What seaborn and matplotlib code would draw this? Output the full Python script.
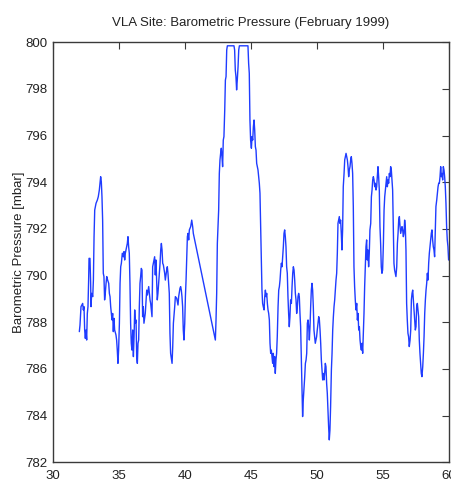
import matplotlib
matplotlib.use("Agg")
import matplotlib.pyplot as plt
import seaborn as sns
import numpy as np
import pandas as pd

# ---- data (day index, pressure in mbar) ----
day_a = [31.995, 32.045, 32.121, 32.248, 32.298, 32.349, 32.399, 32.45, 32.50, 32.55,
         32.60, 32.65, 32.70, 32.73, 32.80, 32.85, 32.88, 32.93, 33.01, 33.06,
         33.11, 33.16, 33.21, 33.26, 33.36, 33.43, 33.51, 33.56, 33.61, 33.66,
         33.71, 33.76, 33.81, 33.86, 33.91, 33.96, 34.02, 34.07, 34.14, 34.22,
         34.27, 34.32, 34.37, 34.47, 34.52, 34.57, 34.62, 34.67, 34.77, 34.82,
         34.87, 34.92, 34.97, 35.03, 35.08, 35.13, 35.18, 35.25, 35.33, 35.38,
         35.43, 35.48, 35.58, 35.63, 35.68, 35.73, 35.78, 35.83, 35.88, 35.93,
         35.98, 36.04, 36.09, 36.14, 36.19, 36.24, 36.29, 36.34, 36.39, 36.44,
         36.49, 36.54, 36.59, 36.64, 36.69, 36.74, 36.79, 36.84, 36.89, 36.99,
         37.10, 37.15, 37.25, 37.35, 37.40, 37.45, 37.50, 37.55, 37.60, 37.70,
         37.75, 37.80, 37.85, 37.90, 37.95, 38.06, 38.11, 38.16, 38.21, 38.26,
         38.31, 38.36, 38.46, 38.51, 38.56, 38.61, 38.66, 38.71, 38.76, 38.81,
         38.86, 38.91, 39.02, 39.07, 39.12, 39.22, 39.27, 39.37, 39.47, 39.52,
         39.62]
pres_a = [787.60, 787.88, 788.67, 788.81, 788.53, 788.67, 787.67, 787.31, 787.67, 787.24,
          788.38, 788.67, 789.81, 790.74, 790.74, 789.74, 788.67, 789.24, 789.10, 789.81,
          791.67, 792.81, 792.96, 793.10, 793.24, 793.38, 793.67, 793.96, 794.24, 794.03,
          793.38, 792.38, 790.10, 789.96, 788.96, 789.24, 789.67, 789.96, 789.81, 789.67,
          789.24, 789.10, 788.67, 788.10, 788.38, 787.60, 788.17, 787.67, 787.46, 787.24,
          786.81, 786.24, 786.81, 787.96, 789.67, 790.38, 790.53, 790.96, 790.81, 791.03,
          790.67, 790.96, 791.24, 791.38, 791.67, 791.24, 790.96, 789.67, 787.96, 787.10,
          786.81, 787.67, 786.53, 787.38, 788.53, 787.96, 788.10, 786.53, 786.24, 787.10,
          787.24, 788.67, 789.67, 789.96, 790.31, 790.24, 788.24, 788.67, 787.96, 788.38,
          789.38, 789.17, 789.53, 788.96, 788.81, 788.53, 788.24, 790.38, 790.53, 790.81,
          790.03, 790.67, 789.74, 788.96, 789.24, 790.10, 790.53, 791.10, 791.38, 791.10,
          790.53, 790.46, 790.10, 789.81, 790.03, 790.24, 790.38, 790.10, 789.67, 789.24,
          787.53, 786.67, 786.24, 786.96, 787.96, 788.67, 789.10, 789.03, 788.74, 789.10,
          789.46]

day_b = [39.67, 39.72, 39.77, 39.82, 39.87, 39.92, 39.98, 40.03, 40.08, 40.13,
         40.18, 40.23, 40.28, 40.33, 40.43, 40.51, 40.58, 40.63, 42.30, 42.35,
         42.40, 42.45, 42.55, 42.60, 42.65, 42.70, 42.75, 42.80, 42.85, 42.90,
         42.95, 43.01, 43.06, 43.11, 43.16, 43.21, 43.71, 43.76, 43.81, 43.86,
         43.91, 43.96, 44.02, 44.07, 44.12, 44.77, 44.82, 44.87, 44.92, 44.97,
         45.03, 45.08, 45.13, 45.18, 45.23, 45.28, 45.33, 45.38, 45.43, 45.53,
         45.58, 45.63, 45.68, 45.73, 45.78, 45.83, 45.88, 45.93, 45.99, 46.04,
         46.09, 46.14, 46.19, 46.24, 46.29, 46.34, 46.39, 46.44]
pres_b = [789.53, 789.38, 789.10, 788.67, 787.67, 787.24, 787.96, 789.10, 789.81, 790.81,
          791.67, 791.81, 791.53, 791.96, 792.10, 792.38, 792.10, 791.81, 787.24, 788.10,
          789.24, 791.38, 792.81, 794.38, 794.96, 795.24, 795.46, 795.10, 794.67, 795.81,
          795.96, 797.10, 798.38, 798.53, 799.67, 799.85, 799.85, 799.67, 798.81, 798.53,
          797.96, 798.38, 798.96, 799.67, 799.85, 799.85, 799.10, 798.67, 796.67, 795.81,
          795.46, 795.96, 795.81, 796.38, 796.67, 796.24, 795.53, 795.38, 794.81, 794.53,
          794.24, 793.96, 793.53, 792.10, 790.53, 789.38, 788.81, 788.67, 788.53, 789.10,
          789.38, 789.10, 789.24, 788.81, 788.53, 788.38, 788.10, 787.10]

day_c = [46.49, 46.54, 46.59, 46.64, 46.69, 46.74, 46.79, 46.84, 46.89, 46.94,
         46.99, 47.05, 47.10, 47.15, 47.20, 47.25, 47.30, 47.35, 47.40, 47.45,
         47.50, 47.55, 47.60, 47.65, 47.70, 47.75, 47.80, 47.85, 47.90, 47.95,
         48.00, 48.06, 48.11, 48.16, 48.21, 48.26, 48.31, 48.36, 48.41, 48.46,
         48.51, 48.56, 48.61, 48.66, 48.71, 48.76, 48.81, 48.86, 48.91, 48.96,
         49.01, 49.07, 49.12, 49.17, 49.22, 49.27, 49.32, 49.37, 49.42, 49.47,
         49.52, 49.57, 49.62, 49.67, 49.72, 49.77, 49.82, 49.87, 49.92, 49.97,
         50.02, 50.08, 50.13, 50.18, 50.23, 50.28, 50.33, 50.38, 50.43, 50.48,
         50.53, 50.58, 50.63, 50.68, 50.73, 50.78, 50.83, 50.88, 50.93, 50.98,
         51.03, 51.09, 51.14, 51.19, 51.24, 51.29, 51.34, 51.39, 51.44, 51.49,
         51.54, 51.59, 51.64, 51.69, 51.74, 51.79, 51.84, 51.89, 51.94, 51.99,
         52.05, 52.10, 52.15, 52.20, 52.25, 52.30, 52.35, 52.40, 52.45, 52.50,
         52.55, 52.60, 52.65, 52.70, 52.75, 52.80, 52.85, 52.90, 52.95, 53.01,
         53.06, 53.11, 53.16, 53.21, 53.26, 53.31, 53.36, 53.41, 53.46, 53.51,
         53.56, 53.61, 53.66, 53.71, 53.76, 53.81, 53.86, 53.91, 53.96, 54.01,
         54.07, 54.12, 54.17, 54.22, 54.27, 54.32, 54.37, 54.42, 54.47, 54.52,
         54.57, 54.62, 54.67, 54.72, 54.77, 54.82, 54.87, 54.92, 54.97, 55.03,
         55.08, 55.13, 55.18, 55.23, 55.28, 55.33, 55.38, 55.43, 55.48, 55.53,
         55.58, 55.63, 55.68, 55.73, 55.78, 55.83, 55.88, 55.93, 55.98, 56.04,
         56.09, 56.14, 56.19, 56.24, 56.29, 56.34, 56.39, 56.44, 56.49, 56.54,
         56.59, 56.64, 56.69, 56.74, 56.79, 56.84, 56.89, 56.94, 56.99, 57.05,
         57.10, 57.15, 57.20, 57.25, 57.30, 57.35, 57.40, 57.45, 57.50, 57.55,
         57.60, 57.65, 57.70, 57.75, 57.80, 57.85, 57.90, 57.95, 58.01, 58.06,
         58.11, 58.16, 58.21, 58.26, 58.31, 58.36, 58.41, 58.46, 58.51, 58.56,
         58.61, 58.66, 58.71, 58.76, 58.81, 58.86, 58.91, 58.96, 59.01, 59.07,
         59.12, 59.17, 59.22, 59.27, 59.32, 59.37, 59.42, 59.47, 59.52, 59.57,
         59.62, 59.67, 59.72, 59.77, 59.82, 59.87, 59.92, 59.97]
pres_c = [786.67, 786.81, 786.53, 786.24, 786.67, 786.10, 786.53, 785.81, 786.38, 786.67,
          787.38, 788.67, 789.38, 789.53, 789.81, 790.24, 790.53, 790.38, 790.81, 791.24,
          791.81, 791.96, 791.67, 791.24, 790.38, 790.10, 789.10, 788.38, 787.81, 788.24,
          788.96, 788.81, 789.53, 790.10, 790.38, 790.24, 789.81, 789.24, 788.96, 788.38,
          788.67, 789.10, 789.24, 789.10, 788.38, 787.81, 786.53, 785.10, 783.96, 784.67,
          785.10, 785.67, 786.24, 786.38, 786.67, 787.96, 788.10, 787.81, 787.24, 787.81,
          788.67, 789.38, 789.67, 789.38, 788.67, 787.67, 787.38, 787.10, 787.24, 787.38,
          787.67, 787.96, 788.24, 788.10, 787.67, 787.10, 786.38, 785.96, 785.53, 785.81,
          785.53, 785.81, 786.24, 786.10, 785.38, 784.96, 784.24, 783.53, 782.96, 783.38,
          784.38, 785.96, 786.67, 787.67, 788.24, 788.67, 788.96, 789.38, 789.81, 790.10,
          790.96, 792.24, 792.38, 792.53, 792.24, 792.38, 791.81, 791.10, 791.96, 793.81,
          794.38, 794.96, 795.10, 795.24, 795.10, 794.96, 794.67, 794.24, 794.53, 794.67,
          794.96, 795.10, 794.81, 794.38, 792.96, 790.38, 789.53, 788.96, 788.53, 788.81,
          788.10, 788.38, 787.67, 787.81, 787.24, 786.96, 786.81, 787.10, 786.67, 787.53,
          788.38, 789.53, 790.38, 791.24, 791.53, 790.67, 791.10, 790.38, 790.96, 791.96,
          792.24, 793.38, 793.67, 794.10, 794.24, 794.10, 793.81, 793.96, 793.67, 793.81,
          794.24, 794.67, 794.24, 793.67, 792.10, 791.38, 790.38, 790.10, 790.24, 791.38,
          792.81, 793.38, 793.67, 793.96, 794.24, 793.81, 794.10, 793.96, 794.38, 794.24,
          794.67, 794.53, 794.10, 793.67, 792.10, 790.53, 790.24, 790.10, 789.96, 790.38,
          791.38, 791.81, 792.38, 792.53, 792.10, 791.81, 791.96, 792.10, 791.96, 791.67,
          791.81, 792.38, 792.10, 791.10, 788.81, 788.10, 787.53, 787.38, 786.96, 787.24,
          787.67, 788.96, 789.24, 789.38, 788.96, 788.53, 788.10, 787.67, 787.81, 788.67,
          788.81, 788.53, 788.24, 787.24, 786.67, 786.24, 785.81, 785.67, 786.10, 786.67,
          787.38, 788.38, 788.96, 789.38, 789.67, 790.10, 789.81, 790.53, 790.96, 791.24,
          791.53, 791.81, 791.96, 791.53, 791.24, 791.10, 790.81, 791.96, 792.96, 793.24,
          793.53, 793.81, 793.96, 793.96, 794.24, 794.67, 794.24, 794.38, 794.10, 794.67,
          794.53, 794.24, 793.81, 793.10, 792.10, 791.53, 791.24, 790.67]

x_ticks = [30, 35, 40, 45, 50, 55, 60]
y_ticks = [782, 784, 786, 788, 790, 792, 794, 796, 798, 800]
title_text = "VLA Site: Barometric Pressure (February 1999)"
ylabel_text = "Barometric Pressure [mbar]"

df = pd.DataFrame({"day": day_a + day_b + day_c,
                   "pressure": pres_a + pres_b + pres_c})

sns.set_style("white")
plt.rcParams["font.family"] = ["Liberation Sans", "DejaVu Sans"]

W, H = 451, 479
fig = plt.figure(figsize=(W / 100, H / 100), dpi=100)
left, right, top, bottom = 53, 449, 42.3, 462.3
ax = fig.add_axes([left / W, (H - bottom) / H, (right - left) / W, (bottom - top) / H])

sns.lineplot(data=df, x="day", y="pressure", ax=ax, color="#1f3cff",
             linewidth=1.0, estimator=None, sort=False)

ax.set_xlim(30, 60)
ax.set_ylim(782, 800)
ax.set_xticks(x_ticks)
ax.set_yticks(y_ticks)
ax.set_xticklabels([str(t) for t in x_ticks])
ax.set_yticklabels([str(t) for t in y_ticks])
ax.set_xlabel("")
ax.set_ylabel(ylabel_text, fontsize=9.5, color="#222222")
ax.yaxis.set_label_coords((25 - left) / (right - left), 0.5)
ax.set_title(title_text, fontsize=9.5, color="#222222", pad=12)

for s in ax.spines.values():
    s.set_visible(True)
    s.set_color("#3a3a3a")
    s.set_linewidth(1.0)

ax.tick_params(axis="both", which="both", direction="in", length=5, width=0.8,
               color="#3a3a3a", top=True, right=True, labelsize=9.5,
               labelcolor="#222222")
ax.tick_params(axis="x", pad=5.5)
ax.tick_params(axis="y", pad=4)
ax.grid(False)

fig.savefig("out.png", dpi=100)
